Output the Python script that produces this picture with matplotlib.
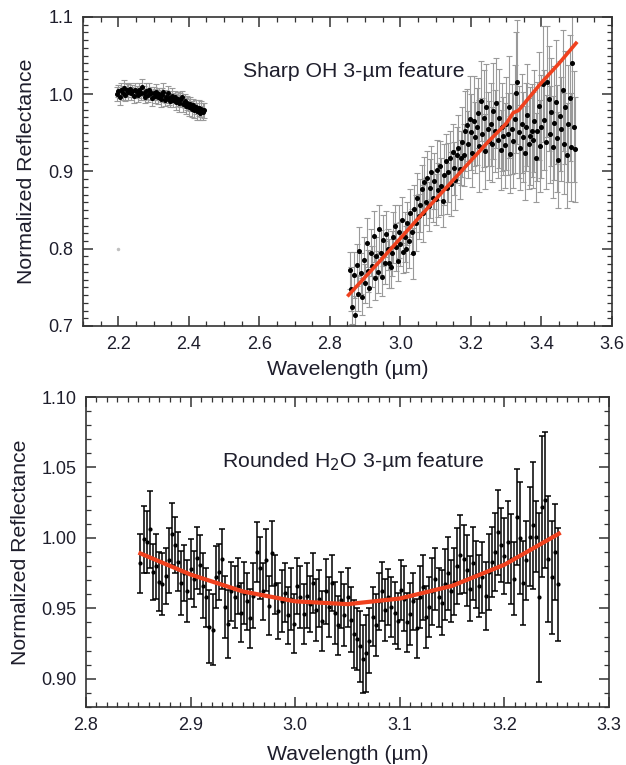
### Two-panel 3-um reflectance spectra with error bars ###

import matplotlib
matplotlib.use("Agg")
import matplotlib.pyplot as plt
from matplotlib.ticker import MultipleLocator, FormatStrFormatter
import numpy as np

plt.rcParams['font.family'] = ['Liberation Sans', 'DejaVu Sans']

# ---- top panel: sharp OH feature ----
# short-wavelength segment (2.196 - 2.444 um, 0.004 um sampling)
oh_short_x = np.linspace(2.196, 2.444, 63)
oh_short_y = [1.000, 1.004, 0.996, 1.006, 1.002, 1.008, 0.999, 1.005, 1.003, 1.007,
              1.001, 1.004, 0.998, 1.006, 1.003, 0.999, 1.005, 1.001, 1.009, 1.002,
              0.997, 1.004, 0.999, 1.006, 1.001, 0.995, 1.002, 0.998, 1.003, 0.996,
              1.000, 0.994, 0.999, 1.003, 0.993, 0.997, 1.001, 0.995, 0.991, 0.998,
              0.993, 0.996, 0.990, 0.994, 0.988, 0.992, 0.996, 0.987, 0.991, 0.985,
              0.989, 0.983, 0.987, 0.981, 0.986, 0.979, 0.984, 0.978, 0.982, 0.976,
              0.981, 0.977, 0.979]
oh_short_err = [0.009, 0.008, 0.010, 0.008, 0.009, 0.011, 0.008, 0.009, 0.010, 0.008,
                0.009, 0.008, 0.010, 0.009, 0.008, 0.009, 0.010, 0.008, 0.011, 0.009,
                0.008, 0.010, 0.009, 0.008, 0.009, 0.010, 0.008, 0.009, 0.010, 0.009,
                0.008, 0.010, 0.009, 0.011, 0.008, 0.009, 0.010, 0.009, 0.008, 0.010,
                0.009, 0.008, 0.010, 0.009, 0.011, 0.009, 0.008, 0.010, 0.009, 0.010,
                0.009, 0.011, 0.009, 0.010, 0.008, 0.010, 0.009, 0.011, 0.010, 0.009,
                0.010, 0.011, 0.010]
# stray point
oh_stray_x = [2.20]
oh_stray_y = [0.80]

# long-wavelength segment (2.856 - 3.496 um, 0.004 um sampling)
oh_long_x = np.linspace(2.856, 3.496, 161)
oh_long_y = [0.772, 0.748, 0.725, 0.766, 0.714, 0.779, 0.742, 0.797, 0.768, 0.738,
             0.786, 0.755, 0.808, 0.771, 0.749, 0.795, 0.777, 0.816, 0.762, 0.790,
             0.770, 0.826, 0.795, 0.764, 0.811, 0.782, 0.819, 0.799, 0.781, 0.776,
             0.794, 0.815, 0.829, 0.802, 0.784, 0.822, 0.806, 0.837, 0.796, 0.815,
             0.800, 0.833, 0.810, 0.846, 0.822, 0.794, 0.852, 0.833, 0.866, 0.842,
             0.856, 0.877, 0.846, 0.886, 0.861, 0.892, 0.855, 0.878, 0.899, 0.866,
             0.888, 0.864, 0.902, 0.876, 0.907, 0.881, 0.862, 0.896, 0.913, 0.878,
             0.899, 0.917, 0.884, 0.925, 0.904, 0.889, 0.921, 0.931, 0.903, 0.918,
             0.938, 0.921, 0.952, 0.960, 0.935, 0.968, 0.951, 0.924, 0.965, 0.944,
             0.958, 0.976, 0.933, 0.991, 0.948, 0.969, 0.926, 0.984, 0.955, 0.940,
             0.961, 0.935, 0.978, 0.952, 0.989, 0.941, 0.969, 0.928, 0.958, 0.946,
             0.934, 0.962, 0.948, 0.984, 0.922, 0.955, 0.940, 0.968, 1.002, 1.016,
             0.951, 0.931, 0.962, 0.945, 0.924, 0.958, 0.973, 0.936, 0.946, 0.953,
             0.941, 0.965, 0.918, 0.952, 0.985, 0.933, 0.958, 1.013, 0.967, 0.938,
             1.016, 0.994, 0.948, 0.977, 0.932, 0.963, 0.990, 0.943, 0.915, 0.972,
             0.955, 1.005, 0.936, 0.983, 0.921, 0.962, 0.995, 0.932, 1.041, 0.958,
             0.929]
oh_long_err = [0.024, 0.028, 0.022, 0.030, 0.025, 0.027, 0.023, 0.031, 0.026, 0.024,
               0.029, 0.025, 0.032, 0.027, 0.024, 0.030, 0.026, 0.033, 0.028, 0.025,
               0.027, 0.031, 0.029, 0.025, 0.033, 0.028, 0.030, 0.026, 0.032, 0.027,
               0.029, 0.033, 0.028, 0.031, 0.026, 0.034, 0.029, 0.030, 0.027, 0.032,
               0.030, 0.028, 0.035, 0.031, 0.029, 0.033, 0.030, 0.036, 0.032, 0.029,
               0.034, 0.031, 0.037, 0.033, 0.030, 0.035, 0.032, 0.038, 0.034, 0.031,
               0.036, 0.033, 0.039, 0.035, 0.032, 0.037, 0.034, 0.040, 0.036, 0.033,
               0.038, 0.035, 0.041, 0.037, 0.034, 0.039, 0.036, 0.042, 0.038, 0.035,
               0.045, 0.040, 0.052, 0.047, 0.043, 0.055, 0.049, 0.044, 0.058, 0.046,
               0.050, 0.045, 0.060, 0.052, 0.047, 0.063, 0.049, 0.055, 0.048, 0.051,
               0.054, 0.049, 0.062, 0.053, 0.058, 0.050, 0.064, 0.052, 0.057, 0.051,
               0.055, 0.060, 0.053, 0.066, 0.050, 0.058, 0.062, 0.070, 0.078, 0.080,
               0.060, 0.055, 0.064, 0.058, 0.061, 0.057, 0.066, 0.059, 0.063, 0.060,
               0.062, 0.066, 0.058, 0.064, 0.070, 0.060, 0.067, 0.075, 0.065, 0.061,
               0.072, 0.068, 0.063, 0.070, 0.066, 0.074, 0.080, 0.069, 0.062, 0.071,
               0.067, 0.078, 0.065, 0.073, 0.068, 0.076, 0.082, 0.070, 0.085, 0.072,
               0.068]
# linear model through the OH band
oh_fit_x = [2.853, 2.950, 3.050, 3.150, 3.250, 3.300, 3.320, 3.335, 3.400, 3.450, 3.498]
oh_fit_y = [0.740, 0.788, 0.839, 0.889, 0.939, 0.962, 0.976, 0.979, 1.015, 1.040, 1.066]

# ---- bottom panel: rounded H2O feature (2.852 - 3.251 um, 0.003 um sampling) ----
h2o_x = np.linspace(2.852, 3.251, 134)
h2o_y = [0.982, 0.999, 0.997, 1.006, 0.976, 0.980, 0.969, 0.967, 0.973, 0.984,
         1.003, 0.995, 0.983, 0.968, 0.975, 0.962, 0.978, 0.971, 0.986, 0.981,
         0.966, 0.958, 0.937, 0.935, 0.972, 0.976, 0.985, 0.951, 0.939, 0.962,
         0.958, 0.966, 0.947, 0.961, 0.955, 0.943, 0.959, 0.990, 0.979, 0.962,
         0.984, 0.952, 0.989, 0.967, 0.948, 0.955, 0.961, 0.945, 0.957, 0.939,
         0.966, 0.958, 0.946, 0.959, 0.953, 0.968, 0.949, 0.957, 0.941, 0.962,
         0.951, 0.968, 0.947, 0.938, 0.956, 0.945, 0.958, 0.942, 0.932, 0.928,
         0.923, 0.914, 0.918, 0.927, 0.944, 0.938, 0.955, 0.962, 0.949, 0.958,
         0.951, 0.947, 0.941, 0.963, 0.957, 0.940, 0.946, 0.955, 0.936, 0.958,
         0.965, 0.944, 0.951, 0.962, 0.971, 0.958, 0.954, 0.967, 0.975, 0.962,
         0.969, 0.980, 0.988, 0.985, 0.977, 0.964, 0.982, 0.974, 0.966, 0.972,
         0.959, 0.976, 0.983, 0.990, 1.004, 0.995, 0.987, 0.997, 0.985, 0.971,
         1.015, 1.000, 0.968, 0.984, 1.001, 1.009, 1.001, 0.958, 1.022, 1.027,
         0.985, 0.972, 0.990, 0.967]
h2o_err = [0.021, 0.024, 0.022, 0.027, 0.020, 0.023, 0.021, 0.022, 0.020, 0.023,
           0.022, 0.020, 0.021, 0.023, 0.020, 0.022, 0.021, 0.020, 0.022, 0.021,
           0.023, 0.021, 0.026, 0.025, 0.022, 0.020, 0.021, 0.022, 0.024, 0.021,
           0.022, 0.020, 0.021, 0.022, 0.020, 0.021, 0.023, 0.021, 0.022, 0.020,
           0.022, 0.021, 0.023, 0.021, 0.020, 0.022, 0.021, 0.020, 0.022, 0.021,
           0.020, 0.022, 0.021, 0.023, 0.020, 0.021, 0.022, 0.020, 0.021, 0.023,
           0.021, 0.020, 0.022, 0.021, 0.020, 0.022, 0.021, 0.023, 0.024, 0.022,
           0.025, 0.024, 0.027, 0.023, 0.021, 0.022, 0.020, 0.021, 0.022, 0.020,
           0.021, 0.022, 0.020, 0.021, 0.023, 0.021, 0.022, 0.020, 0.021, 0.022,
           0.023, 0.022, 0.021, 0.024, 0.022, 0.021, 0.023, 0.025, 0.026, 0.022,
           0.024, 0.027, 0.028, 0.024, 0.025, 0.023, 0.026, 0.024, 0.022, 0.025,
           0.024, 0.027, 0.025, 0.028, 0.030, 0.026, 0.027, 0.029, 0.032, 0.026,
           0.034, 0.040, 0.030, 0.028, 0.035, 0.045, 0.025, 0.060, 0.050, 0.048,
           0.045, 0.040, 0.034, 0.040]
h2o_fit_x = [2.852, 2.90, 2.95, 3.00, 3.05, 3.10, 3.15, 3.20, 3.252]
h2o_fit_y = [0.989, 0.974, 0.962, 0.955, 0.953, 0.957, 0.966, 0.981, 1.003]

text_col = '#1e1e2c'
red = '#f0411e'
big = 15.3
tick_fs = 13

fig = plt.figure(figsize=(6.26, 7.65), dpi=100)
ax1 = fig.add_axes([0.1326, 0.5739, 0.845, 0.4039])
ax2 = fig.add_axes([0.1374, 0.0758, 0.8355, 0.4052])

# top panel
ax1.errorbar(oh_short_x, oh_short_y, yerr=oh_short_err, fmt='o', ms=2.6, color='black',
             ecolor='#9a9a9a', elinewidth=0.8, capsize=2, capthick=0.8, zorder=2)
ax1.errorbar(oh_long_x, oh_long_y, yerr=oh_long_err, fmt='o', ms=2.6, color='black',
             ecolor='#9a9a9a', elinewidth=0.8, capsize=2, capthick=0.8, zorder=2)
ax1.plot(oh_stray_x, oh_stray_y, 'o', ms=1.5, color='#c0c0c0')
ax1.plot(oh_fit_x, oh_fit_y, color=red, lw=2.6, zorder=3)
ax1.set_xlim(2.1, 3.6)
ax1.set_ylim(0.7, 1.1)
ax1.xaxis.set_major_locator(MultipleLocator(0.2))
ax1.xaxis.set_minor_locator(MultipleLocator(0.05))
ax1.yaxis.set_major_locator(MultipleLocator(0.1))
ax1.yaxis.set_minor_locator(MultipleLocator(0.01))
ax1.xaxis.set_major_formatter(FormatStrFormatter('%.1f'))
ax1.yaxis.set_major_formatter(FormatStrFormatter('%.1f'))
ax1.text(2.555, 1.029, 'Sharp OH 3-\u00b5m feature', fontsize=big, color=text_col,
         va='center', ha='left')
ax1.set_xlabel('Wavelength (\u00b5m)', fontsize=big, color=text_col, labelpad=5)
ax1.set_ylabel('Normalized Reflectance', fontsize=big, color=text_col, labelpad=9)

# bottom panel
ax2.errorbar(h2o_x, h2o_y, yerr=h2o_err, fmt='o', ms=2.0, color='black',
             ecolor='black', elinewidth=1.1, capsize=2.5, capthick=1.1, zorder=2)
ax2.plot(h2o_fit_x, h2o_fit_y, color=red, lw=3.0, zorder=3)
ax2.set_xlim(2.8, 3.3)
ax2.set_ylim(0.88, 1.10)
ax2.xaxis.set_major_locator(MultipleLocator(0.1))
ax2.xaxis.set_minor_locator(MultipleLocator(0.01))
ax2.yaxis.set_major_locator(MultipleLocator(0.05))
ax2.yaxis.set_minor_locator(MultipleLocator(0.01))
ax2.xaxis.set_major_formatter(FormatStrFormatter('%.1f'))
ax2.yaxis.set_major_formatter(FormatStrFormatter('%.2f'))
ax2.text(2.930, 1.054, 'Rounded H$_2$O 3-\u00b5m feature', fontsize=big, color=text_col,
         va='center', ha='left')
ax2.set_xlabel('Wavelength (\u00b5m)', fontsize=big, color=text_col, labelpad=8)
ax2.set_ylabel('Normalized Reflectance', fontsize=big, color=text_col, labelpad=8)

for ax in (ax1, ax2):
    for s in ax.spines.values():
        s.set_linewidth(1.2)
        s.set_color('#333333')
    ax.tick_params(which='both', direction='in', top=True, right=True,
                   labelsize=tick_fs, labelcolor=text_col, color='#333333')
    ax.tick_params(which='major', length=7, width=1.1, pad=7)
    ax.tick_params(which='minor', length=3.5, width=0.9)

plt.savefig('out.png', dpi=100)
